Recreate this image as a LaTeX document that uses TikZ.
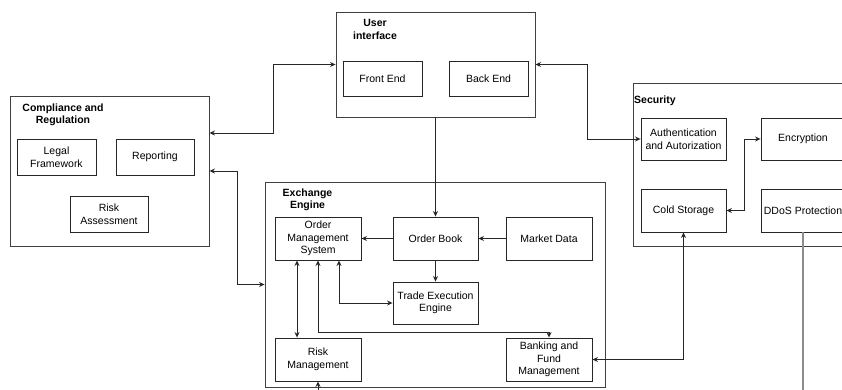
\documentclass[tikz,border=0pt]{standalone}
\usepackage{fontspec}
\setmainfont{Liberation Sans}
\usetikzlibrary{arrows.meta}
\begin{document}
\begin{tikzpicture}[x=1pt,y=-1pt,
  font=\fontsize{10.5}{12.5}\selectfont,
  group/.style={draw=black!75, line width=0.9pt, inner sep=0pt},
  box/.style={draw=black!85, line width=0.9pt, align=center, inner sep=0pt},
  title/.style={font=\fontsize{10.5}{12.5}\selectfont\bfseries, align=center, inner sep=0pt},
  link/.style={draw=black!85, line width=0.9pt, >={Stealth[length=5.5pt,width=5pt]}},
  faint/.style={draw=black!45, line width=1.2pt}
]
\useasboundingbox (0,0) rectangle (842,390);
\clip (0,0) rectangle (842,390);

% Compliance and Regulation
\node[group, minimum width=199pt, minimum height=150pt] (comp) at (109.5,171) {};
\node[title] (compt) at (63,115) {Compliance and\\Regulation};
\node[box, minimum width=79pt, minimum height=36pt] (legal) at (56.5,157) {Legal\\Framework};
\node[box, minimum width=78pt, minimum height=36pt] (rep) at (155,157) {Reporting};
\node[box, minimum width=78pt, minimum height=36pt] (riska) at (109,214) {Risk\\Assessment};

% User interface
\node[group, minimum width=199pt, minimum height=105pt] (ui) at (435.5,64.5) {};
\node[title] (uit) at (375,29.5) {User\\interface};
\node[box, minimum width=79pt, minimum height=35pt] (front) at (382.5,78.5) {Front End};
\node[box, minimum width=79pt, minimum height=35pt] (back) at (488.5,78.5) {Back End};

% Security
\node[group, minimum width=237pt, minimum height=163pt] (sec) at (751.5,164.5) {};
\node[title, anchor=west] (sect) at (634,101) {Security};
\node[box, minimum width=85pt, minimum height=42pt] (auth) at (683.5,139) {Authentication\\and Autorization};
\node[box, minimum width=84pt, minimum height=42pt] (enc) at (803,139) {Encryption};
\node[box, minimum width=85pt, minimum height=43pt] (cold) at (683.5,210.5) {Cold Storage};
\node[box, minimum width=84pt, minimum height=43pt] (ddos) at (803,210.5) {DDoS Protection};

% Exchange Engine
\node[group, minimum width=340pt, minimum height=205pt] (ex) at (435,284.5) {};
\node[title] (ext) at (307.5,200) {Exchange\\Engine};
\node[box, minimum width=86pt, minimum height=43pt] (oms) at (318,238.5) {Order\\Management\\System};
\node[box, minimum width=85pt, minimum height=43pt] (ob) at (435.5,238.5) {Order Book};
\node[box, minimum width=86pt, minimum height=43pt] (md) at (549,238.5) {Market Data};
\node[box, minimum width=85pt, minimum height=42pt] (te) at (435.5,303) {Trade Execution\\Engine};
\node[box, minimum width=86pt, minimum height=43pt] (rm) at (318,359.5) {Risk\\Management};
\node[box, minimum width=86pt, minimum height=43pt] (bank) at (549,359.5) {Banking and\\Fund\\Management};

\coordinate (bottomL) at (318,395);
\coordinate (bottomR) at (803,395);

% connectors
\draw[link,<->] (ui.west) -- (273,64.5) -- (273,133) -- (comp.east |- 0,133);
\draw[link,<->] (ui.east) -- (587,64.5) -- (587,139) -- (auth.west);
\draw[link,->] (ui.south) -- (ob.north);
\draw[link,<->] (enc.west) -- (744,139) |- (cold.east);
\draw[link,<->] (cold.south) |- (bank.east);
\draw[faint] (ddos.south) -- (bottomR);
\draw[link,->] (ob.west) -- (oms.east);
\draw[link,->] (md.west) -- (ob.east);
\draw[link,->] (ob.south) -- (te.north);
\draw[link,<->] ([xshift=21pt]oms.south) |- (te.west);
\draw[link,<->] ([xshift=-21pt]oms.south) -- ([xshift=-21pt]rm.north);
\draw[link,<->] (oms.south) -- (oms.south |- 0,332) -| (bank.north);
\draw[link,->] (bottomL) -- (rm.south);
\draw[link,<->] (comp.east) -- (237,171) |- (ex.west);
\end{tikzpicture}
\end{document}
